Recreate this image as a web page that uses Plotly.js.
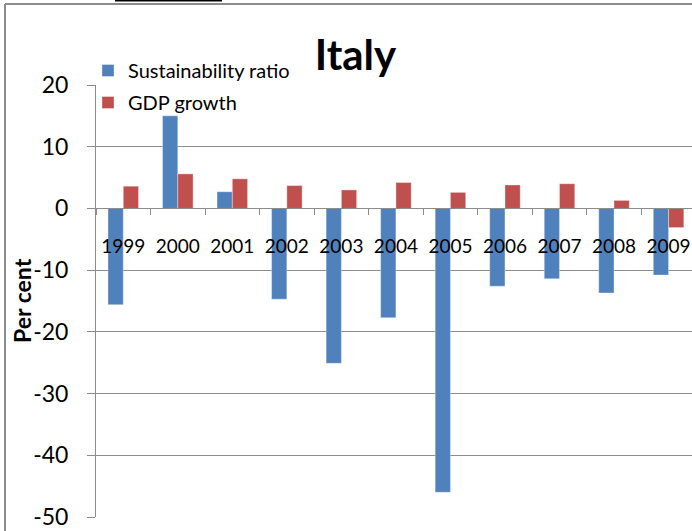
<!DOCTYPE html>
<html>
<head>
<meta charset="utf-8">
<script src="https://cdn.plot.ly/plotly-3.0.1.min.js"></script>
<style>html,body{margin:0;padding:0;background:#fff;}#chart{width:692px;height:531px;}</style>
</head>
<body>
<div id="chart"></div>
<script>
const years = ["1999","2000","2001","2002","2003","2004","2005","2006","2007","2008","2009"];
const sustainabilityRatio = [-15.6, 15.0, 2.7, -14.7, -25.1, -17.7, -46.0, -12.6, -11.4, -13.7, -10.8];
const gdpGrowth = [3.6, 5.6, 4.8, 3.7, 3.0, 4.2, 2.6, 3.8, 4.0, 1.3, -3.1];
const yTicks = [-50, -40, -30, -20, -10, 0, 10, 20];

const W = 692, H = 531;
const M = {l: 96, r: 0, t: 85, b: 14};
const PW = W - M.l - M.r, PH = H - M.t - M.b;
const px = x => (x - M.l) / PW;
const py = y => (H - M.b - y) / PH;
const FONT = "Lato, 'Open Sans', sans-serif";
const yMin = -50, yMax = 20;

const traces = [
  {type: 'bar', name: 'Sustainability ratio', x: years, y: sustainabilityRatio,
   legendgroup: 'a',
   marker: {color: '#4F81BD', line: {color: 'rgba(255,255,255,0.35)', width: 1}}},
  {type: 'bar', name: 'GDP growth', x: years, y: gdpGrowth,
   legendgroup: 'b',
   marker: {color: '#C0504D', line: {color: 'rgba(255,255,255,0.35)', width: 1}}}
];

const layout = {
  width: W, height: H,
  margin: M,
  paper_bgcolor: '#fff', plot_bgcolor: '#fff',
  font: {family: FONT, color: '#000', size: 20},
  barmode: 'group', bargap: 0.44, bargroupgap: 0,
  title: {text: '<b>Italy</b>', font: {family: FONT, size: 42, color: '#000'},
          xref: 'container', x: 355.5 / W, xanchor: 'center',
          yref: 'container', y: 1 - 55 / H, yanchor: 'middle'},
  showlegend: true,
  legend: {x: px(88), y: py(51), xanchor: 'left', yanchor: 'top',
           traceorder: 'grouped', tracegroupgap: 3,
           bgcolor: 'rgba(0,0,0,0)', font: {family: FONT, size: 20, color: '#000'}},
  xaxis: {type: 'category', categoryorder: 'array', categoryarray: years,
          range: [-0.5, 10.43], anchor: 'free', position: (0 - yMin) / (yMax - yMin),
          showline: true, linecolor: '#8c8c8c', linewidth: 1,
          ticks: 'outside', tickson: 'boundaries', ticklen: 6, tickcolor: '#8c8c8c', tickwidth: 1,
          showgrid: false, zeroline: false,
          tickfont: {family: FONT, size: 19, color: '#000'}, ticklabelstandoff: 21,
          fixedrange: true},
  yaxis: {range: [yMin, yMax], tickvals: yTicks, ticktext: yTicks.map(String),
          showline: true, linecolor: '#8c8c8c', linewidth: 1,
          ticks: 'outside', ticklen: 8, tickcolor: '#8c8c8c', tickwidth: 1,
          showgrid: true, gridcolor: '#8c8c8c', gridwidth: 1, zeroline: false,
          tickfont: {family: FONT, size: 23, color: '#000'}, ticklabelstandoff: 14,
          fixedrange: true},
  annotations: [
    {text: '<b>Per cent</b>', xref: 'paper', yref: 'paper', x: px(22), y: 0.5,
     xanchor: 'center', yanchor: 'middle', textangle: -90, showarrow: false,
     font: {family: FONT, size: 23, color: '#000'}}
  ],
  shapes: [
    {type: 'line', xref: 'paper', yref: 'paper', x0: px(5), x1: px(5), y0: py(H + 2), y1: py(4),
     line: {color: '#8c8c8c', width: 2}},
    {type: 'line', xref: 'paper', yref: 'paper', x0: px(5), x1: px(W + 2), y0: py(4), y1: py(4),
     line: {color: '#8c8c8c', width: 2}},
    {type: 'line', xref: 'paper', yref: 'paper', x0: px(115), x1: px(222), y0: py(0.5), y1: py(0.5),
     line: {color: '#000', width: 2}}
  ]
};

Plotly.newPlot('chart', traces, layout, {displayModeBar: false, staticPlot: true});
</script>
</body>
</html>
